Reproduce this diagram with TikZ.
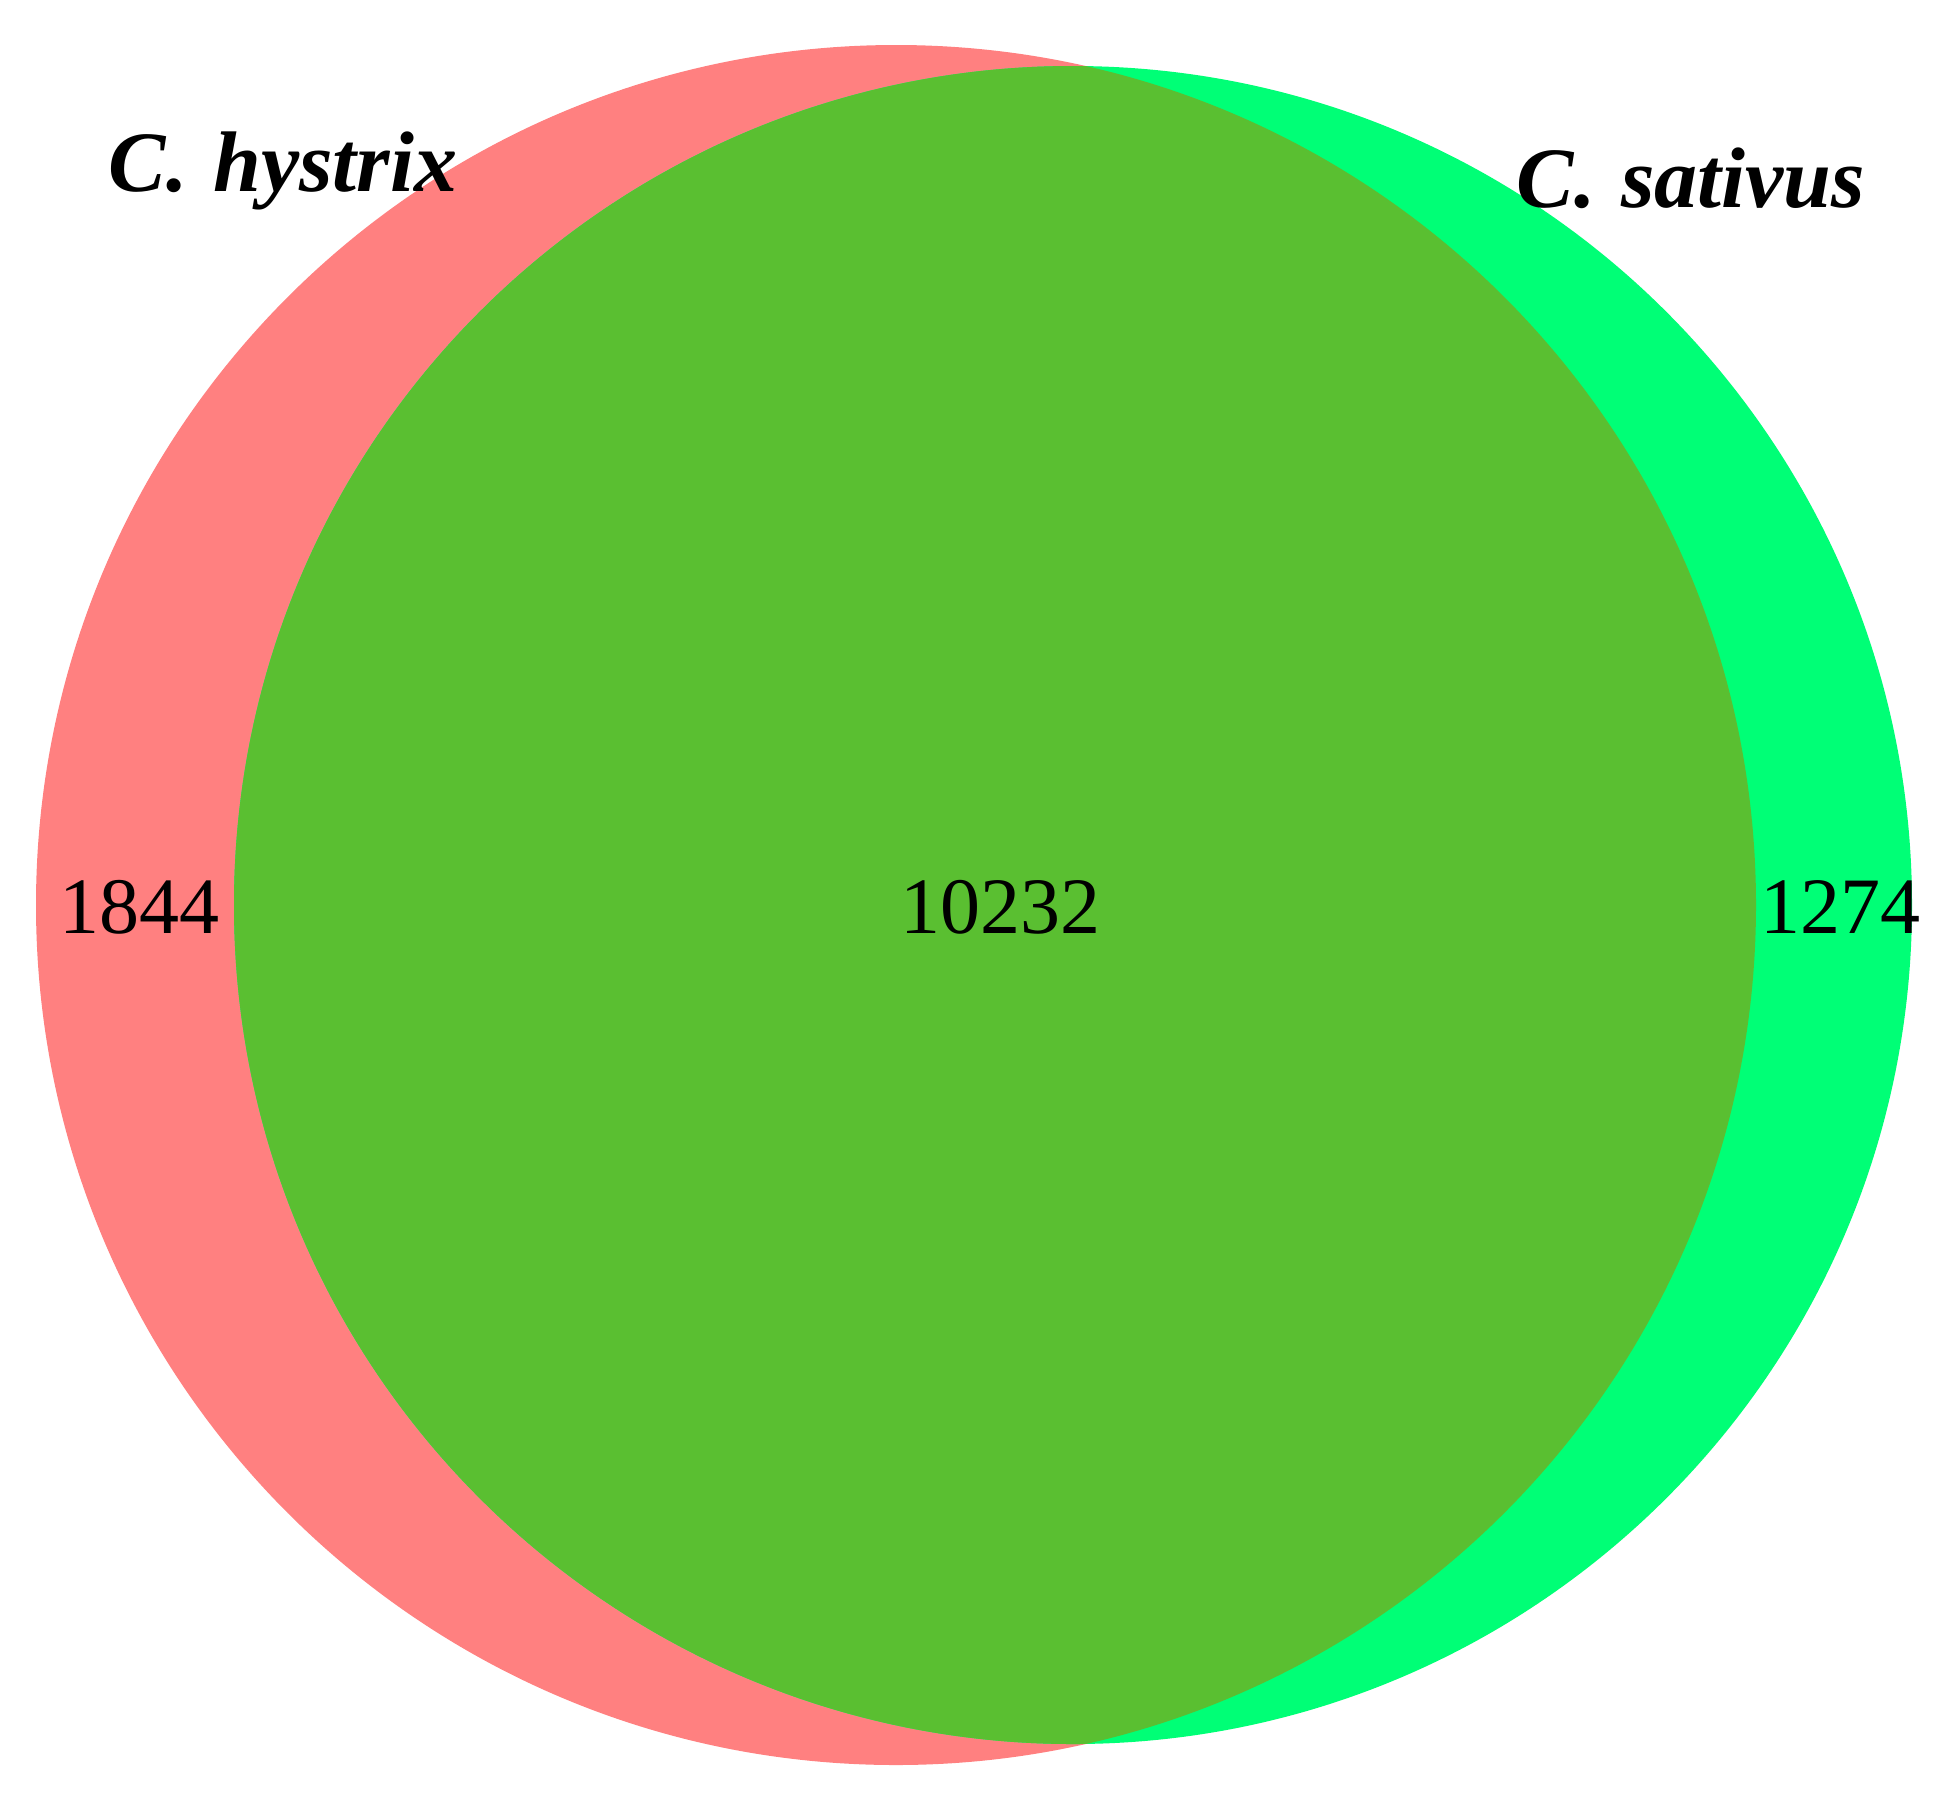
\documentclass[tikz,border=0pt]{standalone}
\usepackage{fontspec}
\setmainfont{Liberation Serif}
\definecolor{setA}{HTML}{FF8080}
\definecolor{setB}{HTML}{00FF76}
\definecolor{setAB}{HTML}{5ABF31}
\begin{document}
\begin{tikzpicture}[x=0.5pt,y=-0.5pt,
  count/.style={inner sep=0pt,anchor=base,font=\fontsize{40}{48}\selectfont},
  setlabel/.style={inner sep=0pt,anchor=base,font=\fontsize{43}{50}\selectfont\bfseries\itshape}]
\useasboundingbox (0,0) rectangle (1948,1795);
\fill[white] (0,0) rectangle (1948,1795);
\coordinate (ca) at (896,905);
\coordinate (cb) at (1073,905);
\fill[setA] (ca) circle[radius=430pt];
\fill[setB] (cb) circle[radius=419.5pt];
\begin{scope}
  \clip (ca) circle[radius=430pt];
  \fill[setAB] (cb) circle[radius=419.5pt];
\end{scope}
\node[count] (n1) at (139,933) {1844};
\node[count] (n2) at (1000,933) {10232};
\node[count] (n3) at (1840,933) {1274};
\node[setlabel] (la) at (283,191) {C.\hspace{0.3em}hystrix};
\node[setlabel] (lb) at (1691,207) {C.\hspace{0.3em}sativus};
\end{tikzpicture}
\end{document}
